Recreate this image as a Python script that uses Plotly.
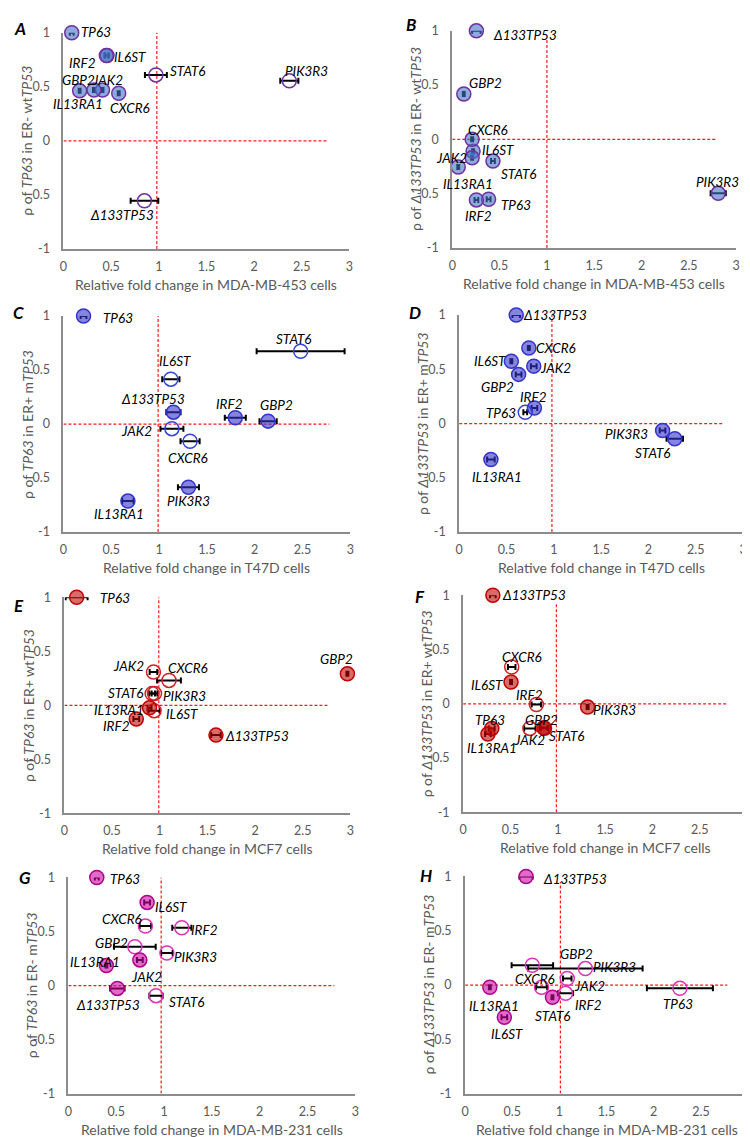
import plotly.graph_objects as go

# genes are in the same order in every panel
GENES = ["TP63", "Δ133TP53", "IL6ST", "IRF2", "STAT6", "PIK3R3", "GBP2", "JAK2", "IL13RA1", "CXCR6"]

# relative fold change (x), rho (y), fold change error, filled (1) / open (0)
A_fold = [0.087, 0.85, 0.457, 0.45, 0.97, 2.37, 0.17, 0.41, 0.32, 0.58]
A_rho = [1.0, -0.555, 0.79, 0.79, 0.61, 0.555, 0.463, 0.47, 0.47, 0.44]
A_err = [0.02, 0.145, 0.02, 0.02, 0.115, 0.095, 0.01, 0.01, 0.01, 0.01]
A_filled = [1, 0, 1, 1, 0, 0, 1, 1, 1, 1]

B_fold = [0.384, 0.255, 0.22, 0.255, 0.43, 2.81, 0.122, 0.21, 0.063, 0.21]
B_rho = [-0.552, 1.0, -0.11, -0.558, -0.2, -0.497, 0.418, -0.17, -0.255, 0.0]
B_err = [0.02, 0.045, 0.01, 0.02, 0.02, 0.08, 0.01, 0.01, 0.01, 0.01]
B_filled = [1, 1, 1, 1, 1, 1, 1, 1, 1, 1]

C_fold = [0.21, 1.15, 1.123, 1.797, 2.48, 1.307, 2.14, 1.134, 0.674, 1.324]
C_rho = [1.0, 0.11, 0.415, 0.058, 0.674, -0.585, 0.027, -0.043, -0.713, -0.159]
C_err = [0.03, 0.075, 0.09, 0.11, 0.46, 0.11, 0.09, 0.12, 0.06, 0.1]
C_filled = [1, 1, 0, 1, 0, 1, 1, 0, 1, 0]

D_fold = [0.698, 0.603, 0.551, 0.795, 2.278, 2.149, 0.628, 0.788, 0.335, 0.736]
D_rho = [0.103, 1.0, 0.574, 0.143, -0.14, -0.064, 0.453, 0.529, -0.331, 0.696]
D_err = [0.02, 0.04, 0.01, 0.03, 0.087, 0.03, 0.03, 0.03, 0.04, 0.01]
D_filled = [0, 1, 1, 1, 1, 1, 1, 1, 1, 1]

E_fold = [0.128, 1.59, 0.941, 0.754, 0.92, 0.945, 2.969, 0.934, 0.893, 1.097]
E_rho = [1.0, -0.276, -0.05, -0.127, 0.108, 0.11, 0.291, 0.307, -0.023, 0.23]
E_err = [0.115, 0.05, 0.06, 0.03, 0.03, 0.03, 0.01, 0.04, 0.02, 0.125]
E_filled = [1, 1, 0, 1, 0, 0, 1, 0, 1, 0]

F_fold = [0.303, 0.314, 0.506, 0.774, 0.86, 1.315, 0.851, 0.705, 0.262, 0.513]
F_rho = [-0.227, 1.0, 0.2, -0.006, -0.225, -0.03, -0.221, -0.227, -0.279, 0.339]
F_err = [0.03, 0.03, 0.01, 0.05, 0.04, 0.01, 0.04, 0.06, 0.03, 0.04]
F_filled = [1, 1, 1, 0, 1, 1, 1, 0, 1, 0]

G_fold = [0.297, 0.512, 0.823, 1.186, 0.916, 1.03, 0.695, 0.747, 0.397, 0.805]
G_rho = [1.0, -0.027, 0.769, 0.535, -0.094, 0.301, 0.359, 0.237, 0.185, 0.55]
G_err = [0.02, 0.075, 0.03, 0.1, 0.07, 0.06, 0.218, 0.03, 0.01, 0.06]
G_filled = [1, 1, 1, 0, 0, 0, 0, 1, 1, 0]

H_fold = [2.277, 0.646, 0.416, 1.065, 0.926, 1.275, 0.713, 1.083, 0.262, 0.81]
H_rho = [-0.03, 1.0, -0.297, -0.076, -0.112, 0.152, 0.182, 0.06, -0.02, -0.02]
H_err = [0.35, 0.07, 0.03, 0.08, 0.01, 0.607, 0.22, 0.045, 0.01, 0.06]
H_filled = [0, 1, 1, 0, 1, 0, 0, 0, 1, 0]

X_TICKS = [0, 0.5, 1, 1.5, 2, 2.5, 3]
X_TICKTEXT = ["0", "0.5", "1", "1.5", "2", "2.5", "3"]
Y_TICKS = [-1, -0.5, 0, 0.5, 1]
Y_TICKTEXT = ["-1", "-0.5", "0", "0.5", "1"]

LETTERS = ["A", "B", "C", "D", "E", "F", "G", "H"]
CELLS = ["MDA-MB-453", "MDA-MB-453", "T47D", "T47D", "MCF7", "MCF7", "MDA-MB-231", "MDA-MB-231"]
Y_TITLES = [
    "ρ of <i>TP63</i> in ER- wt<i>TP53</i>",
    "ρ of <i>Δ133TP53</i> in ER- wt<i>TP53</i>",
    "ρ of <i>TP63</i> in ER+ m<i>TP53</i>",
    "ρ of <i>Δ133TP53</i> in ER+ m<i>TP53</i>",
    "ρ of <i>TP63</i> in ER+ wt<i>TP53</i>",
    "ρ of <i>Δ133TP53</i> in ER+ wt<i>TP53</i>",
    "ρ of <i>TP63</i> in ER- m<i>TP53</i>",
    "ρ of <i>Δ133TP53</i> in ER- m<i>TP53</i>",
]

panels = [
    (A_fold, A_rho, A_err, A_filled),
    (B_fold, B_rho, B_err, B_filled),
    (C_fold, C_rho, C_err, C_filled),
    (D_fold, D_rho, D_err, D_filled),
    (E_fold, E_rho, E_err, E_filled),
    (F_fold, F_rho, F_err, F_filled),
    (G_fold, G_rho, G_err, G_filled),
    (H_fold, H_rho, H_err, H_filled),
]

# ---- styling / layout ----
W, H = 750, 1137
# plot area in pixels: left, right, top, bottom
BOXES = [
    (52, 341, 17, 236), (445, 732, 15, 235),
    (52, 342, 304, 523), (452, 739, 303, 523),
    (53, 342, 589, 808), (456, 743, 587, 807),
    (57, 347, 873, 1092), (458, 744, 872, 1092),
]
LETTER_POS = [(8, 13), (403, 9), (7, 300), (407, 300), (7, 597), (412, 588), (13, 873), (418, 871)]
VLINE_X = [0.98, 1.0, 0.99, 0.98, 0.99, 0.985, 0.97, 1.01]
VLINE_TOP = [1.02, 0.93, 1.02, 1.0, 1.0, 0.93, 1.0, 0.95]

# fill, filled-border, open-border per row
ROW_COLORS = [
    ("rgba(68,114,196,0.6)", "#7030A0", "#7030A0"),
    ("rgba(51,51,204,0.6)", "#3333CC", "#3344DD"),
    ("rgba(192,0,0,0.58)", "#C00000", "#D42020"),
    ("rgba(204,0,160,0.58)", "#B0008C", "#DD33B8"),
]

# label placement: gene -> (anchor, xshift px, yshift px)
LABELS = [
    {"TP63": ("l", 7, 1), "Δ133TP53": ("c", -22, -14), "IL6ST": ("l", 5, -2), "IRF2": ("r", -8, -8),
     "STAT6": ("l", 12, 4), "PIK3R3": ("c", 17, 10), "GBP2": ("c", -1, 11), "JAK2": ("c", 5, 10),
     "IL13RA1": ("c", -16, -14), "CXCR6": ("c", 11, -15)},
    {"TP63": ("l", 10, -6), "Δ133TP53": ("l", 15, -4), "IL6ST": ("l", 7, 1), "IRF2": ("c", 2, -16),
     "STAT6": ("l", 6, -13), "PIK3R3": ("c", -1, 11), "GBP2": ("l", 3, 11), "JAK2": ("r", -3, 0),
     "IL13RA1": ("c", 10, -17), "CXCR6": ("c", 16, 9)},
    {"TP63": ("l", 17, -2), "Δ133TP53": ("c", -20, 13), "IL6ST": ("c", 4, 18), "IRF2": ("c", -6, 14),
     "STAT6": ("c", -7, 12), "PIK3R3": ("c", 0, -14), "GBP2": ("c", 8, 16), "JAK2": ("r", -18, -2),
     "IL13RA1": ("c", -9, -13), "CXCR6": ("c", -2, -17)},
    {"TP63": ("r", -7, -1), "Δ133TP53": ("l", 5, 0), "IL6ST": ("r", -3, 0), "IRF2": ("c", -1, 11),
     "STAT6": ("c", -22, -14), "PIK3R3": ("r", -13, -3), "GBP2": ("c", -21, -13), "JAK2": ("l", 4, -2),
     "IL13RA1": ("c", 6, -18), "CXCR6": ("l", 5, 0)},
    {"TP63": ("l", 21, -1), "Δ133TP53": ("l", 7, -1), "IL6ST": ("l", 10, -3), "IRF2": ("r", -4, -7),
     "STAT6": ("r", -6, 1), "PIK3R3": ("l", 7, -3), "GBP2": ("c", -11, 15), "JAK2": ("r", -7, 6),
     "IL13RA1": ("r", -4, -2), "CXCR6": ("c", 19, 12)},
    {"TP63": ("c", -2, 8), "Δ133TP53": ("l", 7, 0), "IL6ST": ("r", -6, -3), "IRF2": ("c", -7, 9),
     "STAT6": ("l", 2, -8), "PIK3R3": ("l", 3, -3), "GBP2": ("c", -2, 8), "JAK2": ("c", 0, -12),
     "IL13RA1": ("c", 4, -14), "CXCR6": ("c", 10, 10)},
    {"TP63": ("l", 11, -2), "Δ133TP53": ("c", -9, -17), "IL6ST": ("l", 6, -5), "IRF2": ("l", 7, -2),
     "STAT6": ("l", 11, -6), "PIK3R3": ("l", 5, -4), "GBP2": ("c", -23, 4), "JAK2": ("c", 7, -17),
     "IL13RA1": ("c", -11, 4), "CXCR6": ("c", -23, 7)},
    {"TP63": ("c", -2, -16), "Δ133TP53": ("l", 15, -3), "IL6ST": ("c", 3, -17), "IRF2": ("c", 23, -12),
     "STAT6": ("c", 1, -19), "PIK3R3": ("l", 6, 2), "GBP2": ("c", 44, 11), "JAK2": ("l", 5, -7),
     "IL13RA1": ("c", 4, -19), "CXCR6": ("c", -7, 8)},
]
ANCHOR = {"l": "left", "r": "right", "c": "center"}

FONT = "Lato, 'Open Sans', sans-serif"
GREY = "#595959"
RED = "#FF1A1A"

fig = go.Figure()
annotations = []
shapes = []
layout = {}

for i, (fold, rho, err, filled) in enumerate(panels):
    k = i + 1
    xa = "x" if k == 1 else f"x{k}"
    ya = "y" if k == 1 else f"y{k}"
    left, right, top, bottom = BOXES[i]
    fill, edge, open_edge = ROW_COLORS[i // 2]

    # red dashed reference lines (under the points)
    shapes.append(dict(type="line", xref=xa, yref=ya, x0=0, x1=2.78, y0=0, y1=0, layer="below",
                       line=dict(color=RED, width=1.2, dash="3px,2px")))
    shapes.append(dict(type="line", xref=xa, yref=ya, x0=VLINE_X[i], x1=VLINE_X[i], y0=-1,
                       y1=VLINE_TOP[i], layer="below",
                       line=dict(color=RED, width=1.2, dash="3px,2px")))

    fig.add_trace(go.Scatter(
        x=fold, y=rho, mode="markers", xaxis=xa, yaxis=ya,
        text=GENES, cliponaxis=False, showlegend=False,
        error_x=dict(type="data", array=err, visible=True, color="black", thickness=2, width=3),
        marker=dict(
            size=14, symbol="circle",
            color=[fill if f else "rgba(0,0,0,0)" for f in filled],
            line=dict(color=[edge if f else open_edge for f in filled], width=1.5),
        ),
    ))

    axname = "xaxis" if k == 1 else f"xaxis{k}"
    ayname = "yaxis" if k == 1 else f"yaxis{k}"
    layout[axname] = dict(
        domain=[left / W, right / W], range=[0, 3], anchor=ya,
        showgrid=False, zeroline=False, showline=True, linecolor="#8C8C8C", linewidth=2,
        tickvals=X_TICKS, ticktext=X_TICKTEXT, ticks="outside", ticklen=5,
        tickcolor="rgba(0,0,0,0)", tickfont=dict(family=FONT, size=12.5, color=GREY),
    )
    layout[ayname] = dict(
        domain=[1 - bottom / H, 1 - top / H], range=[-1, 1], anchor=xa,
        showgrid=False, zeroline=False, showline=True, linecolor="#8C8C8C", linewidth=2,
        tickvals=Y_TICKS, ticktext=Y_TICKTEXT, ticks="outside", ticklen=9,
        tickcolor="rgba(0,0,0,0)", tickfont=dict(family=FONT, size=12.5, color=GREY),
    )

    # gene labels
    for g, fx, ry in zip(GENES, fold, rho):
        anc, dx, dy = LABELS[i][g]
        annotations.append(dict(
            x=fx, y=ry, xref=xa, yref=ya, text=f"<i>{g}</i>", showarrow=False,
            xanchor=ANCHOR[anc], yanchor="middle", xshift=dx, yshift=dy,
            font=dict(family=FONT, size=13.5, color="black"),
        ))

    # axis titles
    annotations.append(dict(
        x=(left + right) / 2 / W, y=1 - (bottom + 36) / H, xref="paper", yref="paper",
        text=f"Relative fold change in {CELLS[i]} cells", showarrow=False,
        xanchor="center", yanchor="middle", font=dict(family=FONT, size=14, color=GREY),
    ))
    annotations.append(dict(
        x=(left - 37) / W, y=1 - (top + bottom) / 2 / H, xref="paper", yref="paper",
        text=Y_TITLES[i], showarrow=False, textangle=-90,
        xanchor="center", yanchor="middle", font=dict(family=FONT, size=14, color=GREY),
    ))

    # panel letter
    lx, ly = LETTER_POS[i]
    annotations.append(dict(
        x=lx / W, y=1 - ly / H, xref="paper", yref="paper",
        text=f"<b><i>{LETTERS[i]}</i></b>", showarrow=False,
        xanchor="center", yanchor="middle", font=dict(family=FONT, size=17, color="black"),
    ))

fig.update_layout(
    width=W, height=H, autosize=False,
    margin=dict(l=0, r=0, t=0, b=0),
    paper_bgcolor="white", plot_bgcolor="white",
    annotations=annotations, shapes=shapes,
    **layout,
)

fig.write_html("out.html")
